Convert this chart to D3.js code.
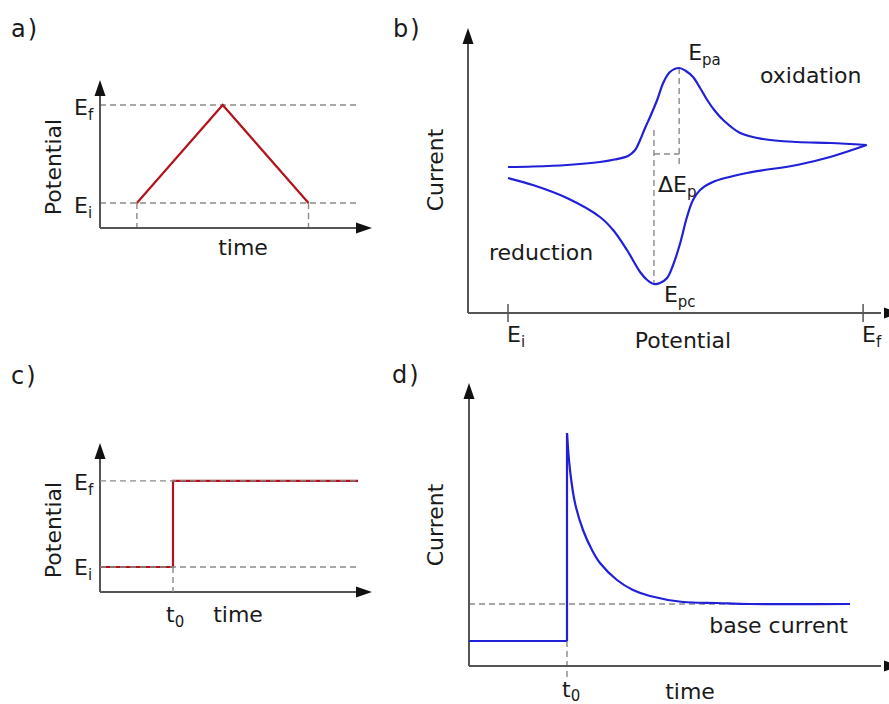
<!DOCTYPE html>
<html><head><meta charset="utf-8">
<script src="https://cdn.jsdelivr.net/npm/d3@7"></script>
<style>
html,body{margin:0;padding:0;background:#fff;}
svg text{font-family:"DejaVu Sans",Verdana,sans-serif;fill:#1a1a1a;}
</style></head>
<body>
<svg id="chart" width="889" height="704"></svg>
<script>
// ---------- DATA ----------
// Panel a: triangular potential sweep (cyclic voltammetry)
const sweepTime = [0, 1, 2];
const sweepPotential = [0, 1, 0];           // Ei = 0, Ef = 1
const levelsA = [0, 1];                      // Ei, Ef
// Panel b: cyclic voltammogram (potential, current)
const cvForwardE = [0.0, 0.07, 0.166, 0.259, 0.30, 0.338, 0.358, 0.372, 0.386, 0.40, 0.42, 0.437, 0.456, 0.482, 0.501, 0.521, 0.541, 0.561, 0.583, 0.606, 0.654, 0.718, 0.814, 0.907, 1.01];
const cvForwardI = [-0.07, -0.065, -0.05, -0.02, 0.005, 0.04, 0.10, 0.20, 0.32, 0.43, 0.60, 0.77, 0.88, 0.92, 0.89, 0.83, 0.72, 0.60, 0.49, 0.40, 0.27, 0.21, 0.18, 0.17, 0.15];
const cvReverseE = [1.01, 0.907, 0.814, 0.673, 0.577, 0.541, 0.521, 0.504, 0.485, 0.465, 0.448, 0.428, 0.411, 0.392, 0.372, 0.335, 0.296, 0.259, 0.166, 0.07, 0.0];
const cvReverseI = [0.15, 0.03, -0.05, -0.13, -0.22, -0.30, -0.40, -0.57, -0.83, -1.05, -1.18, -1.23, -1.24, -1.20, -1.12, -0.90, -0.70, -0.57, -0.38, -0.25, -0.18];
const peakAnodic = {E: 0.482, I: 0.92};
const peakCathodic = {E: 0.411, I: -1.24};
const cvTicks = [{E: 0, label: "E", sub: "i"}, {E: 1, label: "E", sub: "f"}];
// Panel c: potential step
const stepTime = [0, 0.73, 0.73, 2.58];
const stepPotential = [0, 0, 1, 1];
const stepT0 = 0.73;
// Panel d: chronoamperometry current response
const caBaseTime = [0, 0.98];
const caBaseCurrent = [0.25, 0.25];
const caTime = [0.98, 0.98, 1.01, 1.06, 1.14, 1.23, 1.31, 1.48, 1.64, 1.81, 2.14, 2.48, 2.81, 3.81];
const caCurrent = [0.25, 2.33, 1.96, 1.63, 1.36, 1.16, 1.03, 0.86, 0.76, 0.70, 0.64, 0.63, 0.62, 0.62];
const caT0 = 0.98;
const baseCurrent = 0.62;

// ---------- DRAW ----------
const svg = d3.select("#chart");
const RED = "#b3141c", BLUE = "#2020d8", AXIS = "#555", DASH = "#8a8a8a";
const FS = 22, SUBFS = 15;

function arrowUp(g, x, yTip){
  g.append("path").attr("d", `M${x},${yTip} L${x-5.5},${yTip+16} L${x+5.5},${yTip+16} Z`).attr("fill","#111");
}
function arrowRight(g, xTip, y){
  g.append("path").attr("d", `M${xTip},${y} L${xTip-16},${y-5.5} L${xTip-16},${y+5.5} Z`).attr("fill","#111");
}
function axes(g, xs, ys, opts){
  const x0 = xs.range()[0], x1 = xs.range()[1];
  const y0 = ys.range()[0], y1 = ys.range()[1];
  g.append("line").attr("x1",x0).attr("x2",x0).attr("y1",y0).attr("y2",y1+8).attr("stroke",AXIS).attr("stroke-width",2);
  g.append("line").attr("x1",x0).attr("x2",x1-8).attr("y1",y0).attr("y2",y0).attr("stroke",AXIS).attr("stroke-width",2);
  arrowUp(g, x0, y1);
  arrowRight(g, opts && opts.xTip ? opts.xTip : x1, y0);
}
function dashed(g, x1, y1, x2, y2){
  g.append("line").attr("x1",x1).attr("y1",y1).attr("x2",x2).attr("y2",y2)
   .attr("stroke",DASH).attr("stroke-width",1.4).attr("stroke-dasharray","6,4");
}
function subLabel(g, x, y, main, sub, anchor, subDy){
  const t = g.append("text").attr("x",x).attr("y",y).attr("font-size",FS).attr("text-anchor",anchor||"start");
  t.append("tspan").text(main);
  t.append("tspan").attr("font-size",SUBFS).attr("dy",subDy||5).text(sub);
  return t;
}
function text(g, x, y, s, anchor){
  return g.append("text").attr("x",x).attr("y",y).attr("font-size",FS).attr("text-anchor",anchor||"start").text(s);
}
function panelLabel(g, x, y, s){
  return g.append("text").attr("x",x).attr("y",y).attr("font-size",24).attr("letter-spacing",2).text(s);
}
function vtext(g, x, y, s){
  return g.append("text").attr("transform",`translate(${x},${y}) rotate(-90)`).attr("font-size",FS).attr("text-anchor","middle").text(s);
}

// ----- Panel a -----
{
  const g = svg.append("g");
  const xs = d3.scaleLinear().domain([-0.43, 2.74]).range([100, 372]);
  const ys = d3.scaleLinear().domain([-0.255, 1.255]).range([228, 80]);
  const tEnd = 2.57;
  levelsA.forEach(v => dashed(g, xs.range()[0], ys(v), xs(tEnd), ys(v)));
  dashed(g, xs(sweepTime[0]), ys(0), xs(sweepTime[0]), ys.range()[0]);
  dashed(g, xs(sweepTime[2]), ys(0), xs(sweepTime[2]), ys.range()[0]);
  axes(g, xs, ys);
  const line = d3.line().x((d,i)=>xs(sweepTime[i])).y((d,i)=>ys(sweepPotential[i]));
  g.append("path").attr("d", line(sweepTime)).attr("fill","none").attr("stroke",RED).attr("stroke-width",2.2);
  subLabel(g, 74, ys(1)+10, "E", "f");
  subLabel(g, 74, ys(0)+10, "E", "i");
  vtext(g, 61, 167, "Potential");
  text(g, 243, 255, "time", "middle");
  panelLabel(g, 11, 37, "a)");
}

// ----- Panel b -----
{
  const g = svg.append("g");
  const xs = d3.scaleLinear().domain([-0.1127, 1.073]).range([468, 889]);
  const ys = d3.scaleLinear().domain([-1.53, 1.32]).range([313, 28]);
  dashed(g, xs(peakAnodic.E), ys(peakAnodic.I), xs(peakAnodic.E), ys(-0.07));
  dashed(g, xs(peakCathodic.E), ys(0.30), xs(peakCathodic.E), ys(peakCathodic.I));
  dashed(g, xs(peakCathodic.E), ys(0.06), xs(peakAnodic.E), ys(0.06));
  axes(g, xs, ys, {xTip: 900});
  cvTicks.forEach(t => {
    g.append("line").attr("x1",xs(t.E)).attr("x2",xs(t.E)).attr("y1",ys.range()[0]-9).attr("y2",ys.range()[0]+9).attr("stroke",AXIS).attr("stroke-width",1.5);
    subLabel(g, xs(t.E)-1, 342, t.label, t.sub);
  });
  const fwd = d3.line().curve(d3.curveCatmullRom.alpha(0.5)).x((d,i)=>xs(cvForwardE[i])).y((d,i)=>ys(cvForwardI[i]));
  const rev = d3.line().curve(d3.curveCatmullRom.alpha(0.5)).x((d,i)=>xs(cvReverseE[i])).y((d,i)=>ys(cvReverseI[i]));
  g.append("path").attr("d", fwd(cvForwardE)).attr("fill","none").attr("stroke",BLUE).attr("stroke-width",2.2);
  g.append("path").attr("d", rev(cvReverseE)).attr("fill","none").attr("stroke",BLUE).attr("stroke-width",2.2);
  subLabel(g, xs(peakAnodic.E)+9, 60, "E", "pa");
  subLabel(g, xs(peakCathodic.E)+10, 302, "E", "pc");
  subLabel(g, xs(peakCathodic.E)+4, 192, "\u0394E", "p");
  text(g, 760, 83, "oxidation");
  text(g, 489, 260, "reduction");
  text(g, 683, 348, "Potential", "middle");
  vtext(g, 443, 170, "Current");
  panelLabel(g, 393, 37, "b)");
}

// ----- Panel c -----
{
  const g = svg.append("g");
  const xs = d3.scaleLinear().domain([0, 2.72]).range([100, 372]);
  const ys = d3.scaleLinear().domain([-0.29, 1.44]).range([592, 443]);
  axes(g, xs, ys);
  const line = d3.line().x((d,i)=>xs(stepTime[i])).y((d,i)=>ys(stepPotential[i]));
  g.append("path").attr("d", line(stepTime)).attr("fill","none").attr("stroke",RED).attr("stroke-width",2.2);
  [0,1].forEach(v => dashed(g, xs(0), ys(v), xs(stepTime[3]), ys(v)));
  dashed(g, xs(stepT0), ys(0), xs(stepT0), ys.range()[0]);
  subLabel(g, 74, ys(1)+9, "E", "f");
  subLabel(g, 74, ys(0)+8, "E", "i");
  subLabel(g, xs(stepT0)-7, 622, "t", "0");
  text(g, 238, 622, "time", "middle");
  vtext(g, 61, 530, "Potential");
  panelLabel(g, 11, 384, "c)");
}

// ----- Panel d -----
{
  const g = svg.append("g");
  const xs = d3.scaleLinear().domain([0, 4.2]).range([469, 889]);
  const ys = d3.scaleLinear().domain([0, 2.83]).range([666, 383]);
  dashed(g, xs(0), ys(baseCurrent), xs(caTime[caTime.length-1]), ys(baseCurrent));
  dashed(g, xs(caT0), ys(caBaseCurrent[0]), xs(caT0), 680);
  axes(g, xs, ys, {xTip: 900});
  const base = d3.line().x((d,i)=>xs(caBaseTime[i])).y((d,i)=>ys(caBaseCurrent[i]));
  g.append("path").attr("d", base(caBaseTime)).attr("fill","none").attr("stroke",BLUE).attr("stroke-width",2.2);
  g.append("path").attr("d", d3.line().x((d,i)=>xs(caTime[i])).y((d,i)=>ys(caCurrent[i]))([0,1])).attr("fill","none").attr("stroke",BLUE).attr("stroke-width",2.2);
  const decayIdx = d3.range(1, caTime.length);
  const decay = d3.line().curve(d3.curveCatmullRom.alpha(0.5)).x(d=>xs(caTime[d])).y(d=>ys(caCurrent[d]));
  g.append("path").attr("d", decay(decayIdx)).attr("fill","none").attr("stroke",BLUE).attr("stroke-width",2.2);
  text(g, 848, 633, "base current", "end");
  subLabel(g, xs(caT0)-5, 697, "t", "0", "start", 4);
  text(g, 690, 699, "time", "middle");
  vtext(g, 443, 525, "Current");
  panelLabel(g, 392, 383, "d)");
}
</script>
</body></html>
